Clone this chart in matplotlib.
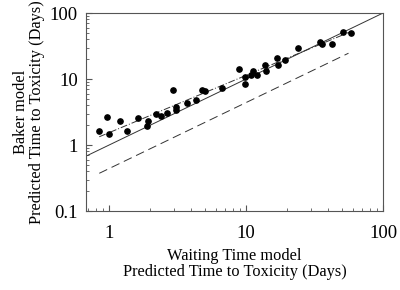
import numpy as np
import matplotlib.pyplot as plt

plt.rcParams['font.family'] = ['Liberation Serif', 'DejaVu Serif']

# Waiting Time model vs Baker model predicted time to toxicity (days)
waiting = [0.85, 0.96, 1.0, 1.2, 1.36, 1.63, 1.88, 1.94, 2.2, 2.41, 2.65, 2.95,
           3.07, 3.08, 3.73, 4.32, 4.77, 4.99, 6.64, 8.93, 9.88, 9.88, 10.9,
           11.3, 12.1, 13.8, 14.0, 16.8, 17.1, 19.2, 23.8, 34.7, 36.1, 42.7,
           51.1, 58.7]
baker = [1.63, 2.69, 1.47, 2.31, 1.63, 2.6, 1.94, 2.31, 2.95, 2.75, 3.03, 6.86,
         3.73, 3.37, 4.3, 4.82, 6.86, 6.6, 7.26, 14.2, 10.9, 8.36, 11.7,
         13.3, 11.7, 16.4, 13.3, 20.8, 16.4, 19.6, 29.5, 36.8, 34.4, 34.4,
         52.3, 50.0]

# fitted regression line (log-log) and lower dashed line
fit_coef, fit_exp = 1.54, 0.868
low_coef = 0.44
x_lo, x_hi = 0.68, 100

fig = plt.figure(figsize=(4, 2.9), dpi=100)
ax = fig.add_axes([0.215, 0.272, 0.7425, 0.683])
ax.set_xscale('log')
ax.set_yscale('log')
ax.set_xlim(x_lo, x_hi)
ax.set_ylim(0.1, 100)

# line of identity
xx = np.array([x_lo, x_hi])
ax.plot(xx, xx, color='#333333', lw=0.7)

# regression line over data range
xf = np.array([min(waiting), max(waiting)])
ax.plot(xf, fit_coef * xf ** fit_exp, color='#333333', lw=0.7,
        dashes=(7, 2, 1, 2))
# lower dashed line
xd = np.array([min(waiting), 56])
ax.plot(xd, low_coef * xd, color='#333333', lw=0.7, dashes=(9, 5))

ax.plot(waiting, baker, 'o', color='black', ms=3.8)

ax.set_xticks([1, 10, 100])
ax.set_xticklabels(['1', '10', '100'])
ax.set_yticks([0.1, 1, 10, 100])
ax.set_yticklabels(['0.1', '1', '10', '100'])
ax.tick_params(which='both', direction='in', top=False, right=False,
               labelsize=13.5, color='#555555')
ax.tick_params(axis='x', which='major', length=4, pad=10)
ax.tick_params(axis='y', which='major', length=4, pad=6)
ax.tick_params(which='minor', length=2)
for s in ax.spines.values():
    s.set_color('#555555')
    s.set_linewidth(0.8)

ax.set_xlabel('Waiting Time model\nPredicted Time to Toxicity (Days)',
              fontsize=11.8, labelpad=4, linespacing=1.05)
ax.set_ylabel('Baker model\nPredicted Time to Toxicity (Days)',
              fontsize=11.8, labelpad=3, linespacing=1.05)

fig.savefig('out.png', dpi=100)
